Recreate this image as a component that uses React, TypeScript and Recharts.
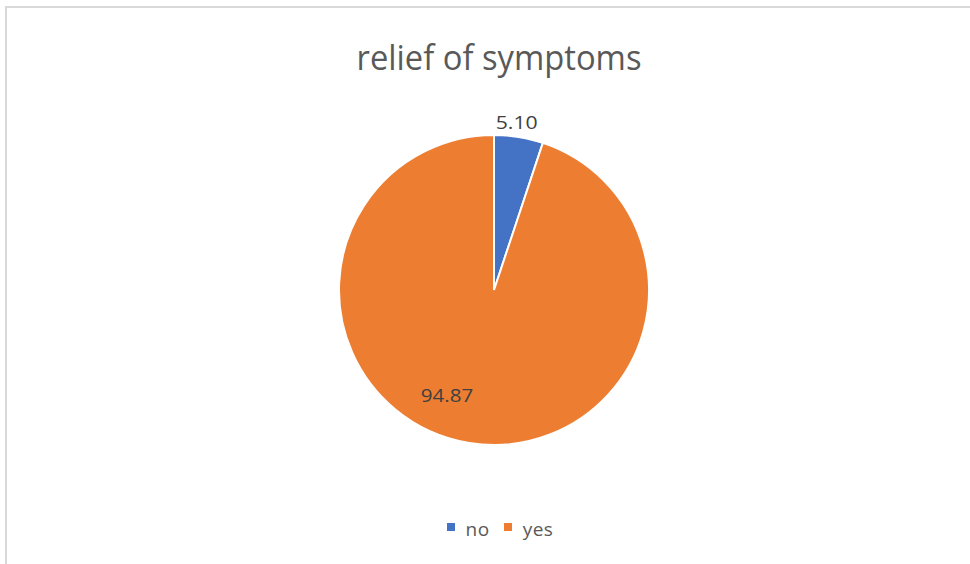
import React from 'react';
import { PieChart, Pie, Cell, Legend } from 'recharts';

const categories = ['no', 'yes'];
const values = [5.10, 94.87];
const labels = ['5.10', '94.87'];
const colors = ['#4472C4', '#ED7D31'];

const chartData = categories.map((name, i) => ({ name, value: values[i], label: labels[i] }));

const RAD = Math.PI / 180;

const renderLabel = (props: any) => {
  const { cx, cy, midAngle, outerRadius, index } = props;
  // small slice gets its label outside, the big one inside near the edge
  const outside = index === 0;
  const r = outside ? outerRadius + 15 : outerRadius * 0.74;
  const angle = outside ? midAngle + 1.5 : midAngle - 15;
  const x = cx + r * Math.cos(angle * RAD);
  const y = cy - r * Math.sin(angle * RAD);
  const txt = chartData[index].label;
  return (
    <text
      x={x}
      y={y}
      textAnchor="middle"
      dominantBaseline="central"
      fill="#404040"
      fontSize={19}
      fontFamily="'Open Sans', sans-serif"
      textLength={txt.length * 10.5}
      lengthAdjust="spacingAndGlyphs"
    >
      {txt}
    </text>
  );
};

const renderLegend = (props: any) => {
  const { payload } = props;
  return (
    <div style={{ display: 'flex', justifyContent: 'center', alignItems: 'center', gap: 14 }}>
      {payload.map((entry: any) => (
        <div key={entry.value} style={{ display: 'flex', alignItems: 'center' }}>
          <span style={{ width: 8, height: 8, background: entry.color, display: 'inline-block', marginRight: 11, marginTop: -4 }} />
          <span style={{ color: '#595959', fontSize: 19, fontFamily: "'Open Sans', sans-serif", letterSpacing: 0.5 }}>{entry.value}</span>
        </div>
      ))}
    </div>
  );
};

export default function App() {
  return (
    <div style={{ position: 'absolute', left: 0, top: 0, width: 970, height: 564, overflow: 'hidden', background: '#fff' }}>
      <div style={{ position: 'absolute', left: 5, top: 6, width: 1000, height: 600, borderLeft: '2px solid #d9d9d9', borderTop: '2px solid #d9d9d9' }} />
      <div style={{ position: 'absolute', left: 0, top: 0 }}>
        <PieChart width={970} height={564} margin={{ top: 0, right: 0, bottom: 0, left: 0 }}>
          <text
            x={499}
            y={57}
            textAnchor="middle"
            dominantBaseline="central"
            fill="#595959"
            fontSize={34}
            fontFamily="'Open Sans', sans-serif"
            textLength={285}
            lengthAdjust="spacingAndGlyphs"
          >
            relief of symptoms
          </text>
          <Pie
            data={chartData}
            dataKey="value"
            nameKey="name"
            cx={494}
            cy={290}
            outerRadius={155}
            startAngle={90}
            endAngle={-270}
            stroke="#ffffff"
            strokeWidth={2}
            label={renderLabel}
            labelLine={false}
            isAnimationActive={false}
          >
            {chartData.map((d, i) => (
              <Cell key={d.name} fill={colors[i]} />
            ))}
          </Pie>
          <Legend
            content={renderLegend}
            verticalAlign="bottom"
            wrapperStyle={{ top: 516, bottom: 'auto', left: 0, width: 1000 }}
          />
        </PieChart>
      </div>
    </div>
  );
}
